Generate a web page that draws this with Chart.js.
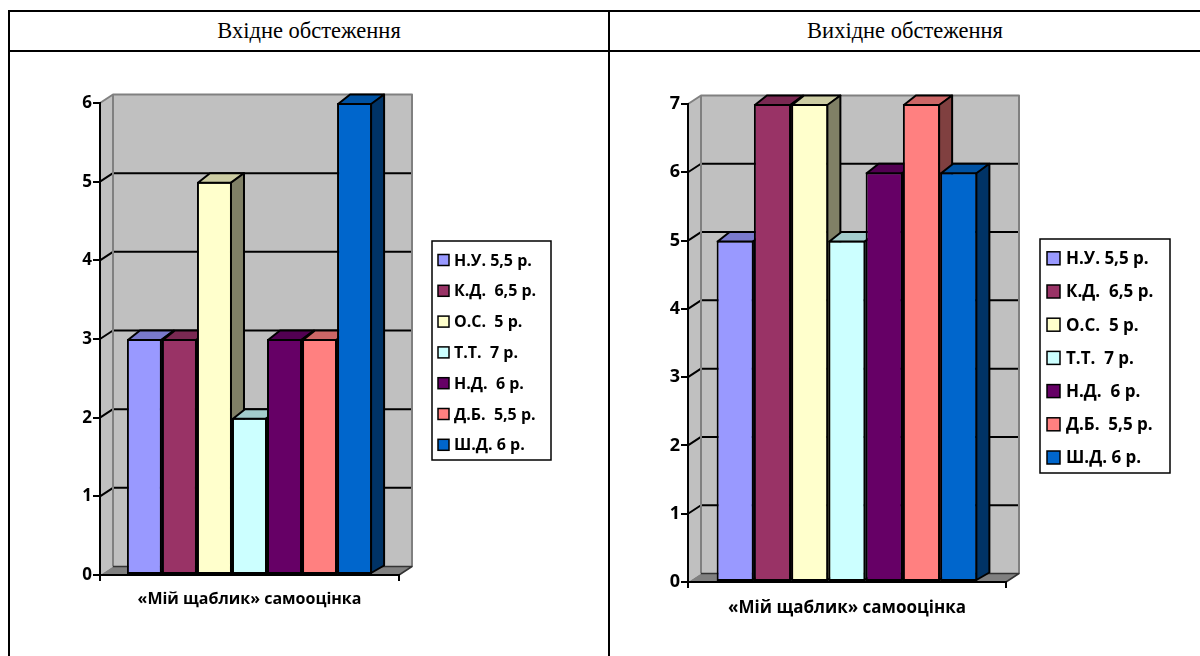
<!DOCTYPE html>
<html>
<head>
<meta charset="utf-8">
<script src="https://cdn.jsdelivr.net/npm/chart.js@4.4.1/dist/chart.umd.min.js"></script>
<style>
  html, body { margin: 0; padding: 0; background: #fff; width: 1200px; height: 656px; overflow: hidden; }
  .rule { position: absolute; background: #000; }
  .head { position: absolute; top: 11px; height: 40px; line-height: 40px; text-align: center;
          font-family: "Liberation Serif", "Times New Roman", serif; font-size: 22.5px; color: #000; }
  canvas { position: absolute; }
</style>
</head>
<body>
<div class="rule" style="left:8px;top:10px;width:1192px;height:2px"></div>
<div class="rule" style="left:8px;top:50px;width:1192px;height:2px"></div>
<div class="rule" style="left:8px;top:10px;width:2px;height:646px"></div>
<div class="rule" style="left:608px;top:10px;width:2px;height:646px"></div>
<div class="head" style="left:10px;width:598px">Вхідне обстеження</div>
<div class="head" style="left:610px;width:590px">Вихідне обстеження</div>
<canvas id="entry" width="598" height="603" style="left:10px;top:53px"></canvas>
<canvas id="exit" width="589" height="603" style="left:611px;top:53px"></canvas>

<script>
// Children (legend entries) and the single category on the x axis
const children = ['Н.У. 5,5 р.', 'К.Д.  6,5 р.', 'О.С.  5 р.', 'Т.Т.  7 р.', 'Н.Д.  6 р.', 'Д.Б.  5,5 р.', 'Ш.Д. 6 р.'];
const categories = ['«Мій щаблик» самооцінка'];

// Self-assessment scores per child
const entryScores = [3, 3, 5, 2, 3, 3, 6];
const exitScores  = [5, 7, 7, 5, 6, 7, 6];

// Value axis ranges
const entryAxisMax = 6;
const exitAxisMax = 7;

const seriesColors = ['#9999FF', '#993366', '#FFFFCC', '#CCFFFF', '#660066', '#FF8080', '#0066CC'];

const FONT = '"Open Sans", "DejaVu Sans", sans-serif';

function shade(hex, k) {
  const n = parseInt(hex.slice(1), 16);
  const r = (n >> 16) & 255, g = (n >> 8) & 255, b = n & 255;
  return `rgb(${Math.round(r * k)},${Math.round(g * k)},${Math.round(b * k)})`;
}

function path(ctx, pts) {
  ctx.beginPath();
  ctx.moveTo(pts[0][0], pts[0][1]);
  for (let i = 1; i < pts.length; i++) ctx.lineTo(pts[i][0], pts[i][1]);
  ctx.closePath();
}

// Walls, floor and gridlines of the 3-D plot box, then extruded bars
const box3d = {
  id: 'box3d',
  beforeDraw(chart, args, o) {
    const { left: L, right: R, top: T, bottom: B } = chart.chartArea;
    const ys = chart.scales.y;
    const ctx = chart.ctx;
    const dx = o.wallDx, dy = o.wallDy;
    ctx.save();
    ctx.lineJoin = 'round';
    // back wall
    ctx.fillStyle = '#C0C0C0';
    ctx.fillRect(L + dx, T + dy, R - L, B - T);
    // side wall
    path(ctx, [[L, T], [L + dx, T + dy], [L + dx, B + dy], [L, B]]);
    ctx.fill();
    // gridlines running along the side wall and the back wall
    ctx.strokeStyle = '#000';
    ctx.lineWidth = 2;
    ys.ticks.forEach(t => {
      if (t.value <= ys.min || t.value >= ys.max) return;
      const y = ys.getPixelForValue(t.value);
      ctx.beginPath();
      ctx.moveTo(L, y);
      ctx.lineTo(L + dx, y + dy);
      ctx.lineTo(R + dx, y + dy);
      ctx.stroke();
    });
    // wall edges
    ctx.strokeStyle = '#808080';
    ctx.lineWidth = 2;
    ctx.beginPath();
    ctx.moveTo(L, T);
    ctx.lineTo(L + dx, T + dy);
    ctx.lineTo(R + dx, T + dy);
    ctx.lineTo(R + dx, B + dy);
    ctx.moveTo(L + dx, T + dy);
    ctx.lineTo(L + dx, B + dy);
    ctx.stroke();
    // floor
    path(ctx, [[L, B], [R, B], [R + dx, B + dy], [L + dx, B + dy]]);
    ctx.fillStyle = '#808080';
    ctx.fill();
    ctx.strokeStyle = '#333';
    ctx.lineWidth = 1.5;
    ctx.beginPath();
    ctx.moveTo(R, B);
    ctx.lineTo(R + dx, B + dy);
    ctx.lineTo(L + dx, B + dy);
    ctx.stroke();
    ctx.restore();
  },
  beforeDatasetDraw() {
    return false;
  },
  afterDatasetsDraw(chart, args, o) {
    const ctx = chart.ctx;
    const dx = o.barDx, dy = o.barDy;
    chart.data.datasets.forEach((ds, i) => {
      const meta = chart.getDatasetMeta(i);
      meta.data.forEach(bar => {
        const { x, y, base, width } = bar.getProps(['x', 'y', 'base', 'width'], true);
        const xl = x - width / 2, xr = x + width / 2;
        const col = ds.backgroundColor;
        bar.draw(ctx);
        ctx.save();
        ctx.lineJoin = 'round';
        ctx.strokeStyle = '#000';
        ctx.lineWidth = 2;
        path(ctx, [[xl + 1, y + 1], [xl + 1 + dx, y + dy], [xr + dx, y + dy], [xr, y + 1]]);
        ctx.fillStyle = shade(col, 0.8);
        ctx.fill();
        ctx.stroke();
        path(ctx, [[xr - 1, y + 1], [xr + dx, y + dy], [xr + dx, base + dy], [xr - 1, base - 1]]);
        ctx.fillStyle = shade(col, 0.5);
        ctx.fill();
        ctx.stroke();
        ctx.restore();
      });
    });
  }
};

// Framed legend listing every series
const framedLegend = {
  id: 'framedLegend',
  afterDraw(chart, args, o) {
    const ctx = chart.ctx;
    ctx.save();
    ctx.strokeStyle = '#000';
    ctx.lineWidth = 1.5;
    ctx.strokeRect(o.x, o.y, o.w, o.h);
    ctx.font = `bold ${o.fontSize}px ${FONT}`;
    ctx.textBaseline = 'middle';
    chart.data.datasets.forEach((ds, i) => {
      const cy = o.y + o.first + o.step * i;
      ctx.fillStyle = ds.backgroundColor;
      ctx.fillRect(o.x + o.sqX, cy - o.sq / 2, o.sq, o.sq);
      ctx.lineWidth = 1.5;
      ctx.strokeRect(o.x + o.sqX, cy - o.sq / 2, o.sq, o.sq);
      ctx.fillStyle = '#000';
      ctx.fillText(ds.label, o.x + o.textX, cy + 1);
    });
    ctx.restore();
  }
};

function buildChart(id, scores, axisMax, g) {
  const datasets = children.map((name, i) => ({
    label: name,
    data: [scores[i]],
    backgroundColor: seriesColors[i],
    borderColor: '#000',
    borderWidth: 2,
    borderSkipped: false
  }));
  return new Chart(document.getElementById(id), {
    type: 'bar',
    data: { labels: categories, datasets },
    plugins: [box3d, framedLegend],
    options: {
      responsive: false,
      animation: false,
      events: [],
      datasets: { bar: { categoryPercentage: 0.82, barPercentage: 1.0 } },
      layout: { padding: g.padding },
      scales: {
        x: {
          afterFit(s) { s.height = 50; },
          grid: { drawOnChartArea: false, color: '#000', lineWidth: 2, tickLength: 6 },
          border: { display: true, color: '#000', width: 2 },
          ticks: { color: '#000', padding: g.xPad, font: { family: FONT, size: g.xFont, weight: 'bold' } }
        },
        y: {
          min: 0, max: axisMax,
          afterFit(s) { s.width = 40; },
          grid: { drawOnChartArea: false, color: '#000', lineWidth: 2, tickLength: 7 },
          border: { display: true, color: '#000', width: 2 },
          ticks: { stepSize: 1, color: '#000', padding: 1, font: { family: FONT, size: g.yFont, weight: 'bold' } }
        }
      },
      plugins: {
        legend: { display: false },
        tooltip: { enabled: false },
        box3d: { wallDx: 13, wallDy: -8.5, barDx: 12, barDy: -8.5 },
        framedLegend: g.legend
      }
    }
  });
}

buildChart('entry', entryScores, entryAxisMax, {
  padding: { left: 50, right: 209, top: 50, bottom: 31 },
  xPad: 9, xFont: 16, yFont: 17,
  legend: { x: 422, y: 188, w: 119, h: 219, first: 19, step: 30.8, sq: 11, sqX: 6, textX: 22, fontSize: 16 }
});

buildChart('exit', exitScores, exitAxisMax, {
  padding: { left: 37, right: 194, top: 51, bottom: 24 },
  xPad: 10, xFont: 17, yFont: 18,
  legend: { x: 429, y: 186, w: 130, h: 234, first: 19.3, step: 33.2, sq: 13, sqX: 7, textX: 26, fontSize: 17 }
});
</script>
</body>
</html>
